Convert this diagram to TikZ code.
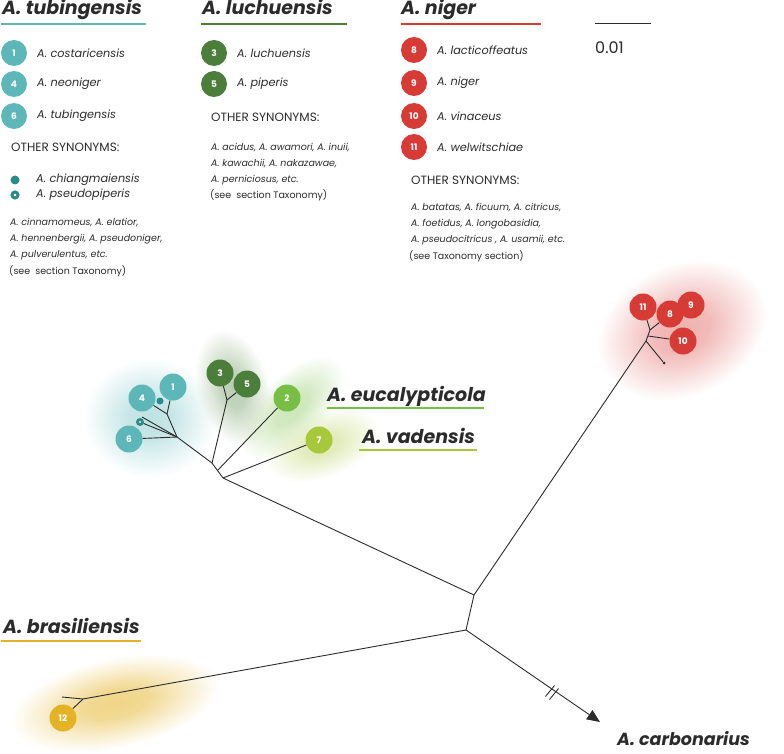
\documentclass[tikz,border=0pt]{standalone}
\usepackage{fontspec}
\setmainfont{Poppins}
\usetikzlibrary{arrows.meta,fadings}

\definecolor{ink}{HTML}{2B2B2B}
\definecolor{tubc}{HTML}{5DB7B9}
\definecolor{tubdk}{HTML}{2A8A86}
\definecolor{lucc}{HTML}{4A7E3A}
\definecolor{eucc}{HTML}{78BE44}
\definecolor{vadc}{HTML}{A8C83C}
\definecolor{nigc}{HTML}{D63B36}
\definecolor{brac}{HTML}{E3B325}

\pgfdeclareradialshading{glowshade}{\pgfpointorigin}{%
  color(0bp)=(transparent!0); color(8bp)=(transparent!12);
  color(25bp)=(transparent!100); color(50bp)=(transparent!100)}
\pgfdeclarefading{glowfade}{\pgfuseshading{glowshade}}

\tikzset{
  sp/.style={circle, fill=#1, text=white, minimum size=26pt, inner sep=0pt,
    font=\fontsize{9}{9}\selectfont\bfseries},
  leaf/.style={sp=#1, minimum size=27pt},
  spname/.style={anchor=west, inner sep=0pt, text=ink,
    font=\fontsize{11.3}{13}\selectfont\itshape},
  other/.style={anchor=west, inner sep=0pt, text=ink,
    font=\fontsize{12}{14}\selectfont},
  syn/.style={anchor=west, inner sep=0pt, text=ink,
    font=\fontsize{9.5}{11}\selectfont\itshape},
  seesec/.style={syn, font=\fontsize{9.5}{11}\selectfont},
  head/.style={anchor=base west, inner sep=0pt, text=ink,
    font=\fontsize{19}{21}\selectfont\bfseries\itshape},
  dotkey/.style={circle, fill=tubdk, minimum size=9pt, inner sep=0pt},
  ringkey/.style={circle, draw=tubdk, fill=white, line width=3pt,
    minimum size=6pt, inner sep=0pt},
  tipdot/.style={circle, fill=ink, minimum size=3pt, inner sep=0pt},
  branch/.style={draw=ink, line width=0.9pt},
  glow/.style={fill=#1, path fading=glowfade},
}

\begin{document}
\begin{tikzpicture}[x=1pt, y=-1pt]
\useasboundingbox (0,0) rectangle (784,754);

% legend: tubingensis
\node[head] (htub) at (2,15) {A. tubingensis};
\draw[tubc, line width=1.5pt] (1,24) -- (146,24);
\node[sp=tubc] (k1) at (14,53) {1};
\node[sp=tubc] (k4) at (14,84) {4};
\node[sp=tubc] (k6) at (14,116) {6};
\node[spname] (t1) at (37,53) {A. costaricensis};
\node[spname] (t4) at (37,84) {A. neoniger};
\node[spname] (t6) at (37,116) {A. tubingensis};
\node[other] (otub) at (11,147) {OTHER SYNONYMS:};
\node[dotkey] (kchi) at (15,180) {};
\node[ringkey] (kpse) at (15,195) {};
\node[spname] (tchi) at (36,180) {A. chiangmaiensis};
\node[spname] (tpse) at (36,195) {A. pseudopiperis};
\node[syn] (s1a) at (10,223) {A. cinnamomeus, A. elatior,};
\node[syn] (s1b) at (10,239) {A. hennenbergii, A. pseudoniger,};
\node[syn] (s1c) at (10,255) {A. pulverulentus, etc.};
\node[seesec] (s1d) at (9,271) {(see\ \ section Taxonomy)};

% legend: luchuensis
\node[head] (hluc) at (202,15) {A. luchuensis};
\draw[lucc, line width=1.5pt] (201,24) -- (347,24);
\node[sp=lucc] (k3) at (214,53) {3};
\node[sp=lucc] (k5) at (214,84) {5};
\node[spname] (t3) at (237,53) {A. luchuensis};
\node[spname] (t5) at (237,84) {A. piperis};
\node[other] (oluc) at (211,117) {OTHER SYNONYMS:};
\node[syn] (s2a) at (211,148) {A. acidus, A. awamori, A. inuii,};
\node[syn] (s2b) at (211,164) {A. kawachii, A. nakazawae,};
\node[syn] (s2c) at (211,180) {A. perniciosus, etc.};
\node[seesec] (s2d) at (210,195) {(see\ \ section Taxonomy)};

% legend: niger
\node[head] (hnig) at (401,15) {A. niger};
\draw[nigc, line width=1.5pt] (401,24) -- (541,24);
\node[sp=nigc] (k8) at (414,50) {8};
\node[sp=nigc] (k9) at (414,83) {9};
\node[sp=nigc] (k10) at (414,116) {10};
\node[sp=nigc] (k11) at (414,147) {11};
\node[spname] (t8) at (437,50) {A. lacticoffeatus};
\node[spname] (t9) at (437,83) {A. niger};
\node[spname] (t10) at (437,116) {A. vinaceus};
\node[spname] (t11) at (437,147) {A. welwitschiae};
\node[other] (onig) at (411,180) {OTHER SYNONYMS:};
\node[syn] (s3a) at (411,208) {A. batatas, A. ficuum, A. citricus,};
\node[syn] (s3b) at (411,224) {A. foetidus, A. longobasidia,};
\node[syn] (s3c) at (411,240) {A. pseudocitricus , A. usamii, etc.};
\node[seesec] (s3d) at (409,256) {(see Taxonomy section)};

% scale bar
\draw[ink, line width=1pt] (595,24) -- (651,24);
\node[anchor=base west, inner sep=0pt, text=ink,
  font=\fontsize{16}{18}\selectfont] (scl) at (595,54) {0.01};

% glows
\fill[glow=tubc!40, fading transform={yscale=0.9}] (150,418) circle (66);
\fill[glow=lucc!38, fading transform={rotate=105, yscale=0.6}] (233,388) circle (60);
\fill[glow=eucc!38, fading transform={rotate=45, yscale=0.5}] (292,408) circle (66);
\fill[glow=vadc!38, fading transform={rotate=20, yscale=0.55}] (322,445) circle (60);
\fill[glow=nigc!40, fading transform={rotate=25, yscale=0.75}] (682,330) circle (88);
\fill[glow=brac!55, fading transform={rotate=12, yscale=0.42}] (115,703) circle (106);

% tree leaves
\node[leaf=tubc] (n4) at (142,398) {4};
\node[leaf=tubc] (n1) at (173,387) {1};
\node[leaf=tubc] (n6) at (129,439) {6};
\node[dotkey, minimum size=7pt] (chi) at (160,401) {};
\node[ringkey, line width=2.8pt, minimum size=5pt] (pse) at (140,422) {};
\node[leaf=lucc] (n3) at (220,373) {3};
\node[leaf=lucc] (n5) at (247,384) {5};
\node[leaf=eucc] (n2) at (287,398) {2};
\node[leaf=vadc] (n7) at (319,440) {7};
\node[leaf=nigc] (n11) at (643,307) {11};
\node[leaf=nigc] (n9) at (691,305) {9};
\node[leaf=nigc] (n8) at (670,314) {8};
\node[leaf=nigc] (n10) at (683,341) {10};
\node[leaf=brac] (n12) at (63,718) {12};
\node[tipdot] (tr) at (664,363) {};

% inner points
\coordinate (a) at (177,437);
\coordinate (b) at (167,414);
\coordinate (ta) at (142,417);
\coordinate (c) at (212,463);
\coordinate (q) at (227,400);
\coordinate (p) at (218,470);
\coordinate (d) at (223,478);
\coordinate (f) at (474,595);
\coordinate (g) at (466,630);
\coordinate (e) at (646,341);
\coordinate (i) at (648,336);
\coordinate (h) at (650,330);
\coordinate (j) at (83,699);
\coordinate (tb) at (62,697);
\coordinate (carb) at (600,722);

% branches
\draw[branch] (a) -- (b);
\draw[branch] (b) -- (n1);
\draw[branch] (b) -- (n4);
\draw[branch] (a) -- (ta);
\draw[branch] (a) -- (pse);
\draw[branch] (a) -- (n6);
\draw[branch] (a) -- (c);
\draw[branch] (c) -- (q);
\draw[branch] (q) -- (n3);
\draw[branch] (q) -- (n5);
\draw[branch] (c) -- (d);
\draw[branch] (p) -- (n2);
\draw[branch] (d) -- (n7);
\draw[branch] (d) -- (f);
\draw[branch] (f) -- (e);
\draw[branch] (e) -- (h);
\draw[branch] (h) -- (n11);
\draw[branch] (h) -- (n8);
\draw[branch] (i) -- (n10);
\draw[branch] (e) -- (tr);
\draw[branch] (f) -- (g);
\draw[branch] (g) -- (j);
\draw[branch] (j) -- (tb);
\draw[branch] (j) -- (n12);
\draw[branch, -{Triangle[length=13pt, width=11pt]}] (g) -- (carb);
% break marks
\draw[branch] (545.5,696.5) -- (554.5,685.5);
\draw[branch] (549.5,699.5) -- (558.5,688.5);

% clade labels
\node[head] (leuc) at (327,401) {A. eucalypticola};
\draw[eucc, line width=1.5pt] (327,408) -- (484,408);
\node[head] (lvad) at (362,443) {A. vadensis};
\draw[vadc, line width=1.5pt] (359,450) -- (477,450);
\node[head] (lbra) at (3,633) {A. brasiliensis};
\draw[brac, line width=1.5pt] (1,641) -- (141,641);
\node[head, font=\fontsize{17.5}{20}\selectfont\bfseries\itshape] (lcarb) at (617,745) {A. carbonarius};
\end{tikzpicture}
\end{document}
